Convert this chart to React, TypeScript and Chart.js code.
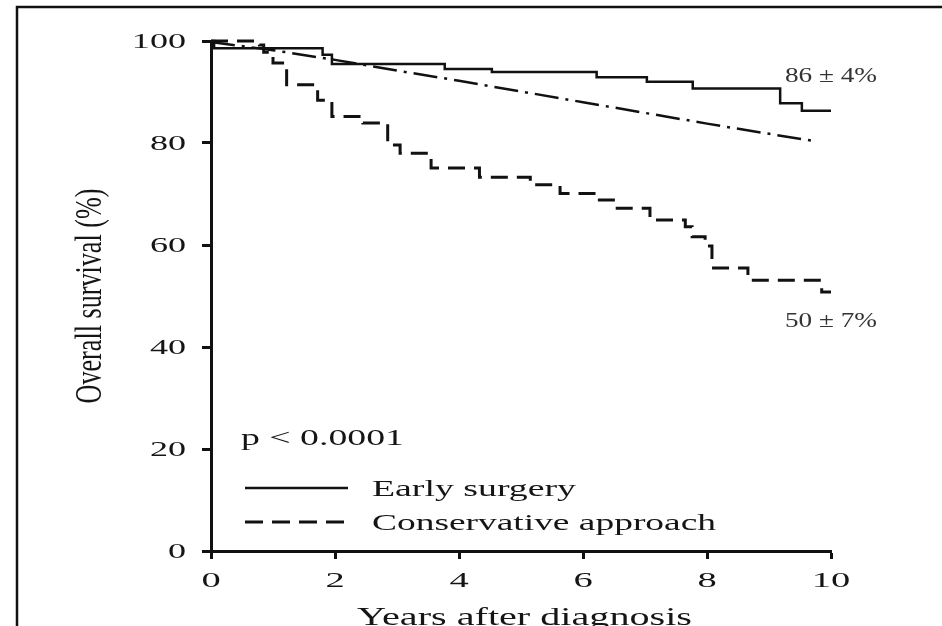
import React, { useEffect, useRef } from 'react';
import { Chart, registerables } from 'chart.js';

Chart.register(...registerables);

// ---- data ----
const xTicks = [0, 2, 4, 6, 8, 10];
const yTicks = [0, 20, 40, 60, 80, 100];

const earlyTimes = [0, 0.05, 1.8, 1.95, 3.77, 4.53, 6.22, 7.03, 7.77, 9.18, 9.53, 10];
const earlySurv = [100, 98.6, 97.3, 95.5, 94.5, 93.9, 92.9, 92.0, 90.7, 87.8, 86.3, 86.3];

const consTimes = [0, 0.78, 0.85, 1.0, 1.22, 1.72, 1.95, 2.45, 2.85, 3.05, 3.55, 4.33, 5.15, 5.63, 6.23, 6.52, 7.08, 7.65, 7.76, 7.97, 8.08, 8.66, 9.85, 10];
const consSurv = [100, 99.2, 97.8, 95.7, 91.4, 88.4, 85.2, 83.9, 79.6, 78.0, 75.1, 73.3, 71.8, 70.1, 68.8, 67.2, 64.9, 63.6, 61.6, 59.8, 55.5, 53.1, 50.8, 50.8];

const refTimes = [0, 1, 2, 3, 4, 5, 6, 7, 8, 9, 9.77];
const refSurv = [99.8, 98.2, 96.3, 94.2, 92.2, 90.1, 88.0, 85.9, 83.8, 81.8, 80.3];

const seriesNames = ['Early surgery', 'Conservative approach'];
const pText = 'p < 0.0001';
const endLabels = ['86 ± 4%', '50 ± 7%'];
const xTitle = 'Years after diagnosis';
const yTitle = 'Overall survival (%)';

const FONT = '"Liberation Serif", "Times New Roman", serif';
const INK = '#151515';

function drawFit(ctx: CanvasRenderingContext2D, text: string, left: number, baseline: number, size: number, width: number, color = INK) {
  ctx.save();
  ctx.font = `${size}px ${FONT}`;
  const m = ctx.measureText(text).width;
  ctx.translate(left, baseline);
  ctx.scale(width / m, 1);
  ctx.fillStyle = color;
  ctx.textAlign = 'left';
  ctx.textBaseline = 'alphabetic';
  ctx.fillText(text, 0, 0);
  ctx.restore();
}

function drawStretch(ctx: CanvasRenderingContext2D, text: string, x: number, baseline: number, size: number, sx: number, align: CanvasTextAlign, color = INK) {
  ctx.save();
  ctx.font = `${size}px ${FONT}`;
  ctx.translate(x, baseline);
  ctx.scale(sx, 1);
  ctx.fillStyle = color;
  ctx.textAlign = align;
  ctx.textBaseline = 'alphabetic';
  ctx.fillText(text, 0, 0);
  ctx.restore();
}

const decorPlugin = {
  id: 'decor',
  afterDraw(chart: any) {
    const ctx: CanvasRenderingContext2D = chart.ctx;
    const xs = chart.scales.x;
    const ys = chart.scales.y;

    // frame
    ctx.save();
    ctx.strokeStyle = '#111';
    ctx.lineWidth = 2.5;
    ctx.beginPath();
    ctx.moveTo(17, 626);
    ctx.lineTo(17, 7);
    ctx.lineTo(942, 7);
    ctx.stroke();
    ctx.restore();

    // tick labels
    yTicks.forEach((v) => {
      drawStretch(ctx, String(v), 186, ys.getPixelForValue(v) + 7, 21, 1.72, 'right');
    });
    xTicks.forEach((v) => {
      drawStretch(ctx, String(v), xs.getPixelForValue(v), 587, 22, 1.75, 'center');
    });

    // axis titles
    drawFit(ctx, xTitle, 357, 625, 26, 335);
    ctx.save();
    ctx.font = `24px ${FONT}`;
    const m = ctx.measureText(yTitle).width;
    ctx.translate(91, (ys.top + ys.bottom) / 2);
    ctx.rotate(-Math.PI / 2);
    ctx.scale(215 / m, 1.55);
    ctx.fillStyle = INK;
    ctx.textAlign = 'center';
    ctx.textBaseline = 'middle';
    ctx.fillText(yTitle, 0, 0);
    ctx.restore();

    // p value
    drawFit(ctx, pText, 241, 445, 23, 163);

    // legend
    ctx.save();
    ctx.strokeStyle = '#111';
    ctx.lineWidth = 2.5;
    ctx.beginPath();
    ctx.moveTo(245, 488);
    ctx.lineTo(348, 488);
    ctx.stroke();
    ctx.lineWidth = 3;
    ctx.setLineDash([18, 9]);
    ctx.beginPath();
    ctx.moveTo(245, 522);
    ctx.lineTo(348, 522);
    ctx.stroke();
    ctx.restore();
    drawFit(ctx, seriesNames[0], 372, 496, 24, 204);
    drawFit(ctx, seriesNames[1], 372, 530, 24, 344);

    // end labels
    drawFit(ctx, endLabels[0], 785, 82, 20, 92, '#333');
    drawFit(ctx, endLabels[1], 785, 327, 20, 92, '#333');
  },
};

const toPoints = (t: number[], s: number[]) => t.map((x, i) => ({ x, y: s[i] }));

export default function App() {
  const ref = useRef<HTMLCanvasElement | null>(null);

  useEffect(() => {
    if (!ref.current) return;
    const chart = new Chart(ref.current, {
      type: 'line',
      data: {
        datasets: [
          {
            label: seriesNames[0],
            data: toPoints(earlyTimes, earlySurv),
            borderColor: '#111',
            borderWidth: 2.5,
            stepped: 'before',
            pointRadius: 0,
            fill: false,
            clip: false as any,
          },
          {
            label: seriesNames[1],
            data: toPoints(consTimes, consSurv),
            borderColor: '#111',
            borderWidth: 3,
            borderDash: [17, 9],
            stepped: 'before',
            pointRadius: 0,
            fill: false,
            clip: false as any,
          },
          {
            label: 'Expected',
            data: toPoints(refTimes, refSurv),
            borderColor: '#111',
            borderWidth: 2.5,
            borderDash: [24, 7, 3, 7],
            pointRadius: 0,
            tension: 0,
            fill: false,
            clip: false as any,
          },
        ],
      },
      options: {
        responsive: false,
        devicePixelRatio: 1,
        animation: false,
        layout: { padding: { top: 41, right: 111, left: 0, bottom: 0 } },
        plugins: { legend: { display: false }, tooltip: { enabled: false }, title: { display: false } },
        scales: {
          x: {
            type: 'linear',
            min: 0,
            max: 10,
            afterBuildTicks: (s: any) => {
              s.ticks = xTicks.map((v) => ({ value: v }));
            },
            afterFit: (s: any) => {
              s.height = 75;
            },
            ticks: { color: 'rgba(0,0,0,0)', font: { size: 18 } },
            grid: { drawOnChartArea: false, drawTicks: true, tickLength: 8, tickWidth: 3, tickColor: '#111' },
            border: { display: true, color: '#111', width: 3 },
          },
          y: {
            type: 'linear',
            min: 0,
            max: 100,
            afterBuildTicks: (s: any) => {
              s.ticks = yTicks.map((v) => ({ value: v }));
            },
            afterFit: (s: any) => {
              s.width = 211;
            },
            ticks: { color: 'rgba(0,0,0,0)', font: { size: 18 } },
            grid: { drawOnChartArea: false, drawTicks: true, tickLength: 9, tickWidth: 3, tickColor: '#111' },
            border: { display: true, color: '#111', width: 3 },
          },
        },
      },
      plugins: [decorPlugin],
    });
    return () => chart.destroy();
  }, []);

  return (
    <div style={{ position: 'fixed', left: 0, top: 0, width: 942, height: 626, background: '#fff', overflow: 'hidden' }}>
      <canvas ref={ref} width={942} height={626} style={{ display: 'block' }} />
    </div>
  );
}
